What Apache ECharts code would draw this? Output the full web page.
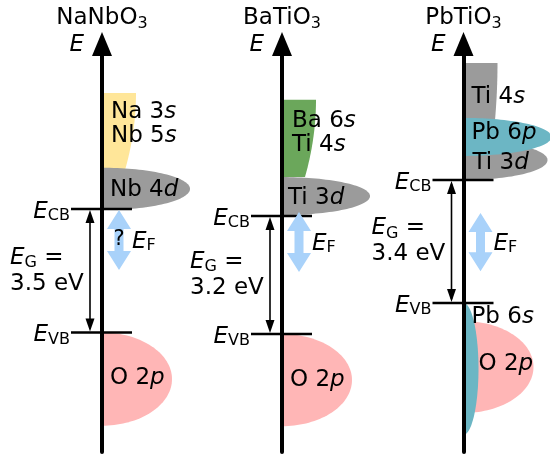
<!DOCTYPE html>
<html>
<head>
<meta charset="utf-8">
<script src="https://cdn.jsdelivr.net/npm/echarts@6/dist/echarts.min.js"></script>
<style>
  html, body { margin: 0; padding: 0; background: #fff; }
  #chart { width: 550px; height: 457px; }
</style>
</head>
<body>
<div id="chart"></div>
<script>
// Band-edge sketches of three perovskites; energies in eV above the valence-band maximum.
const materials = ['NaNbO3', 'BaTiO3', 'PbTiO3'];
const bandGaps = [3.5, 3.2, 3.4];                                   // E_G (eV)
const fermiRanges = [[1.77, 3.47], [1.68, 3.31], [0.88, 2.49]];     // possible E_F window (eV)
const fermiUncertain = [true, false, false];

// Upper s-like conduction states: [panel, E bottom, E top, DOS at top, DOS at bottom]
const sTails = [
  [0, 4.60, 6.79, 34, 23],
  [1, 4.26, 6.35, 34, 23],
  [2, 4.64, 6.63, 34, 30]
];

// Lobe-shaped bands, back to front: [panel, E centre, half spread (eV), peak DOS]
const lobes = [
  [0, 4.07, 0.60, 88],
  [0, -1.32, 1.32, 70],
  [1, 3.74, 0.515, 88],
  [1, -1.25, 1.25, 70],
  [2, 3.95, 0.55, 84],
  [2, 4.59, 0.525, 88],
  [2, -1.77, 1.27, 70],
  [2, -1.82, 1.82, 15]
];
const lobeOrbitals = ['Nb 4d', 'O 2p', 'Ti 3d', 'O 2p', 'Ti 3d', 'Pb 6p', 'O 2p', 'Pb 6s'];

// Orbital names: [panel, E (eV), text]
const orbitalLabels = [
  [0, 5.91, 'Na 3s\nNb 5s'],
  [0, 4.05, 'Nb 4d'],
  [0, -1.30, 'O 2p'],
  [1, 5.46, 'Ba 6s\nTi 4s'],
  [1, 3.70, 'Ti 3d'],
  [1, -1.25, 'O 2p'],
  [2, 5.68, 'Ti 4s'],
  [2, 4.70, 'Pb 6p'],
  [2, 3.88, 'Ti 3d'],
  [2, -0.39, 'Pb 6s'],
  [2, -1.70, 'O 2p']
];

// ---- layout & style ----
const axisX = [102, 282, 463.5];                       // pixel column of each energy axis
const axisRange = [[-3.386, 8.175], [-3.200, 7.864], [-4.118, 7.158]];
const DOS_MIN = -100, DOS_MAX = 86;
const GRID_TOP = 44, GRID_HEIGHT = 408;
const labelInsets = [9, 8, 8, 10, 6, 8, 8, 8, 9, 8, 15];   // DOS offset of each orbital name
const tailColors = ['#FFE699', '#6BA75B', '#9B9B9B'];
const orbitalColors = {
  'Nb 4d': '#9B9B9B', 'Ti 3d': '#9B9B9B',
  'O 2p': '#FFB6B6', 'Pb 6p': '#6CB6C4', 'Pb 6s': '#6CB6C4'
};
const FERMI_COLOR = '#A9D2FA';
const FONT = 'DejaVu Sans';
const FS = 23, SUB_FS = 16;

function richSet(lh) {
  return {
    n: { fontFamily: FONT, fontSize: FS, lineHeight: lh, color: '#000' },
    i: { fontFamily: FONT, fontSize: FS, fontStyle: 'italic', lineHeight: lh, color: '#000' },
    s: { fontFamily: FONT, fontSize: SUB_FS, lineHeight: 10, verticalAlign: 'bottom', color: '#000' },
    q: { fontFamily: FONT, fontSize: 21, lineHeight: lh, color: '#1a1a2a' }
  };
}
const rich24 = richSet(24);
const rich26 = richSet(26);
const sym = (main, sub) => `{i|${main}}{s|${sub}}`;
// last character of each line in italics (orbital letter)
const orbitalText = t => t.split('\n').map(l => `{n|${l.slice(0, -1)}}{i|${l.slice(-1)}}`).join('\n');

const grids = [], xAxes = [], yAxes = [], series = [], graphics = [];

materials.forEach((name, p) => {
  grids.push({ left: axisX[p] + DOS_MIN, width: DOS_MAX - DOS_MIN, top: GRID_TOP, height: GRID_HEIGHT, outerBoundsMode: 'none' });
  xAxes.push({ gridIndex: p, type: 'value', min: DOS_MIN, max: DOS_MAX, show: false });
  yAxes.push({
    gridIndex: p, type: 'value', min: axisRange[p][0], max: axisRange[p][1], z: 3,
    axisLine: {
      show: true, onZero: true, symbol: ['none', 'triangle'], symbolSize: [20, 24],
      lineStyle: { color: '#000', width: 4 }
    },
    axisTick: { show: false }, axisLabel: { show: false }, splitLine: { show: false }
  });

  // material name and energy-axis symbol
  graphics.push({
    type: 'text', x: axisX[p], y: 18.5, silent: true,
    style: {
      text: `{t|${name.slice(0, -1)}}{b|${name.slice(-1)}}`,
      rich: {
        t: { fontFamily: FONT, fontSize: FS, lineHeight: 26, color: '#000' },
        b: { fontFamily: FONT, fontSize: SUB_FS, lineHeight: 10, verticalAlign: 'bottom', color: '#000' }
      },
      align: 'center', verticalAlign: 'middle'
    }
  });
  graphics.push({
    type: 'text', x: axisX[p] - 18, y: 45.5, silent: true,
    style: { text: '{i|E}', rich: rich24, align: 'right', verticalAlign: 'middle' }
  });

  const common = { type: 'custom', coordinateSystem: 'cartesian2d', xAxisIndex: p, yAxisIndex: p, silent: true, animation: false };
  const gap = bandGaps[p];

  // s-like tails
  series.push(Object.assign({}, common, {
    z: 1,
    data: sTails.filter(r => r[0] === p),
    renderItem: (params, api) => {
      const eBot = api.value(1), eTop = api.value(2), wTop = api.value(3), wBot = api.value(4);
      const pts = [api.coord([0, eTop])];
      for (let k = 0; k <= 30; k++) {
        const s = k / 30;
        pts.push(api.coord([wTop - (wTop - wBot) * s * s, eTop - (eTop - eBot) * s]));
      }
      pts.push(api.coord([0, eBot]));
      return { type: 'polygon', shape: { points: pts }, style: { fill: tailColors[p] } };
    }
  }));

  // lobes (half ellipses standing on the axis)
  series.push(Object.assign({}, common, {
    z: 1,
    data: lobes.map((r, k) => r.concat([k])).filter(r => r[0] === p),
    renderItem: (params, api) => {
      const ec = api.value(1), h = api.value(2), w = api.value(3), k = api.value(4);
      const pts = [];
      for (let j = 0; j <= 72; j++) {
        const t = -Math.PI / 2 + Math.PI * j / 72;
        pts.push(api.coord([w * Math.cos(t), ec + h * Math.sin(t)]));
      }
      return { type: 'polygon', shape: { points: pts }, style: { fill: orbitalColors[lobeOrbitals[k]] } };
    }
  }));

  // band edges E_VB and E_CB
  const levelNames = ['VB', 'CB'];
  series.push(Object.assign({}, common, {
    z: 4,
    data: [[0], [gap]],
    renderItem: (params, api) => {
      const e = api.value(0);
      const a = api.coord([-31, e]), b = api.coord([30, e]);
      return {
        type: 'group', children: [
          { type: 'line', shape: { x1: a[0], y1: a[1], x2: b[0], y2: b[1] }, style: { stroke: '#000', lineWidth: 2.5 } },
          { type: 'text', style: { x: a[0] - 1, y: a[1] + 3, text: sym('E', levelNames[params.dataIndex]), rich: rich24, align: 'right', verticalAlign: 'middle' } }
        ]
      };
    },
    encode: { x: -1, y: 0 }
  }));

  // band-gap arrow and its value
  series.push(Object.assign({}, common, {
    z: 4,
    data: [[0, gap]],
    renderItem: (params, api) => {
      const top = api.coord([-12, api.value(1)]), bot = api.coord([-12, api.value(0)]);
      const mid = api.coord([-92, (api.value(0) + api.value(1)) / 2]);
      const x = top[0], hw = 4.5, hl = 13;
      return {
        type: 'group', children: [
          { type: 'line', shape: { x1: x, y1: top[1] + 4, x2: x, y2: bot[1] - 4 }, style: { stroke: '#000', lineWidth: 1.6 } },
          { type: 'polygon', shape: { points: [[x, top[1] + 1], [x + hw, top[1] + 1 + hl], [x - hw, top[1] + 1 + hl]] }, style: { fill: '#000' } },
          { type: 'polygon', shape: { points: [[x, bot[1] - 1], [x + hw, bot[1] - 1 - hl], [x - hw, bot[1] - 1 - hl]] }, style: { fill: '#000' } },
          { type: 'text', style: { x: mid[0], y: mid[1], text: sym('E', 'G') + '{n| =}\n{n|' + gap.toFixed(1) + ' eV}', rich: rich26, align: 'left', verticalAlign: 'middle' } }
        ]
      };
    }
  }));

  // Fermi-level window
  series.push(Object.assign({}, common, {
    z: 4,
    data: [fermiRanges[p]],
    renderItem: (params, api) => {
      const t = api.coord([17, api.value(1)]), b = api.coord([17, api.value(0)]);
      const lab = api.coord([30, (api.value(0) + api.value(1)) / 2]);
      const cx = t[0], L = 19, H = 12, S = 4.5;
      const pts = [
        [cx, t[1]], [cx + H, t[1] + L], [cx + S, t[1] + L], [cx + S, b[1] - L], [cx + H, b[1] - L],
        [cx, b[1]], [cx - H, b[1] - L], [cx - S, b[1] - L], [cx - S, t[1] + L], [cx - H, t[1] + L]
      ];
      const kids = [
        { type: 'polygon', shape: { points: pts }, style: { fill: FERMI_COLOR } },
        { type: 'text', style: { x: lab[0], y: lab[1] + 2, text: sym('E', 'F'), rich: rich24, align: 'left', verticalAlign: 'middle' } }
      ];
      if (fermiUncertain[p]) {
        kids.push({ type: 'text', style: { x: cx, y: (t[1] + b[1]) / 2, text: '{q|?}', rich: rich24, align: 'center', verticalAlign: 'middle' } });
      }
      return { type: 'group', children: kids };
    }
  }));

  // orbital names
  series.push(Object.assign({}, common, {
    z: 5,
    data: orbitalLabels.map((r, k) => [r[0], r[1], k]).filter(r => r[0] === p),
    renderItem: (params, api) => {
      const k = api.value(2);
      const pt = api.coord([labelInsets[k], api.value(1)]);
      return { type: 'text', style: { x: pt[0], y: pt[1], text: orbitalText(orbitalLabels[k][2]), rich: rich24, align: 'left', verticalAlign: 'middle' } };
    }
  }));
});

const chart = echarts.init(document.getElementById('chart'), null, { renderer: 'canvas' });
chart.setOption({
  animation: false,
  backgroundColor: '#fff',
  grid: grids,
  xAxis: xAxes,
  yAxis: yAxes,
  graphic: graphics,
  series: series
});
</script>
</body>
</html>
